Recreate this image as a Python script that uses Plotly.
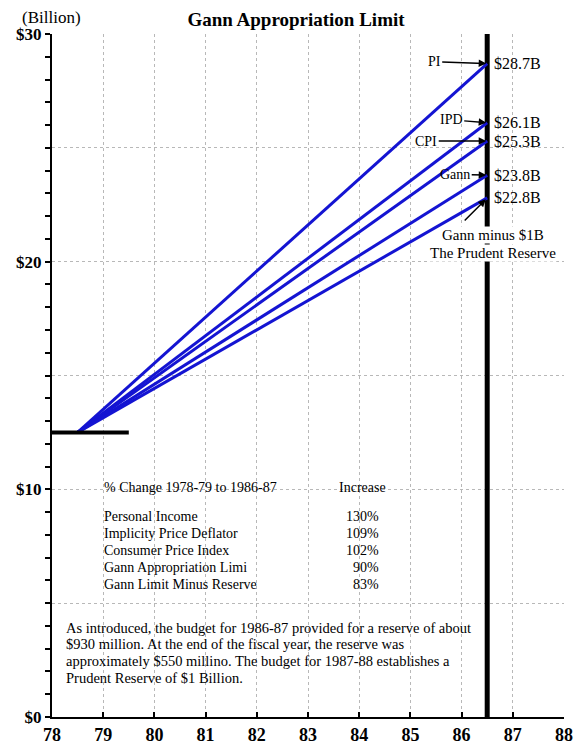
import plotly.graph_objects as go

# %% DATA
start_year = 78.5
start_value = 12.5
end_year = 86.5
series_names = ['PI', 'IPD', 'CPI', 'Gann', 'Gann minus $1B']
end_values = [28.7, 26.1, 25.3, 23.8, 22.8]

base_line_x = [78, 79.5]
base_line_y = [12.5, 12.5]

table_header = ['% Change 1978-79 to 1986-87', 'Increase']
table_labels = [
    'Personal Income',
    'Implicity Price Deflator',
    'Consumer Price Index',
    'Gann Appropriation Limi',
    'Gann Limit Minus Reserve',
]
table_pcts = ['130%', '109%', '102%', '90%', '83%']

note_lines = [
    'As introduced, the budget for 1986-87 provided for a reserve of about',
    '$930 million. At the end of the fiscal year, the reserve was',
    'approximately $550 millino. The budget for 1987-88 establishes a',
    'Prudent Reserve of $1 Billion.',
]

reserve_note = ['Gann minus $1B', 'The Prudent Reserve']

y_tickvals = [0, 5, 10, 15, 20, 25, 30]
y_ticktext = ['$0', '', '$10', '', '$20', '', '$30']
x_tickvals = list(range(78, 89))

FONT = 'Liberation Serif'

# %% FIGURE
fig = go.Figure()

# vertical marker at 86.5
fig.add_trace(go.Scatter(
    x=[end_year, end_year], y=[0, 30],
    mode='lines', line=dict(color='black', width=5),
    hoverinfo='skip', showlegend=False,
))

for name, v in zip(series_names, end_values):
    fig.add_trace(go.Scatter(
        x=[start_year, end_year], y=[start_value, v],
        mode='lines', name=name,
        line=dict(color='#1414d2', width=3),
        showlegend=False,
    ))

fig.add_trace(go.Scatter(
    x=base_line_x, y=base_line_y,
    mode='lines', line=dict(color='black', width=4),
    hoverinfo='skip', showlegend=False,
))

# value labels
for v in end_values:
    fig.add_annotation(
        x=end_year, y=v, text=f'${v}B', showarrow=False,
        xanchor='left', xshift=5, yshift=0,
        font=dict(family=FONT, size=16, color='black'),
    )

# arrow labels
arrow_offsets = {'PI': (-53, -2), 'IPD': (-36, -3), 'CPI': (-61, 0), 'Gann': (-32, -1)}
for name, v in zip(series_names, end_values):
    if name not in arrow_offsets:
        continue
    ax, ay = arrow_offsets[name]
    fig.add_annotation(
        x=end_year, y=v, text=name, showarrow=True,
        ax=ax, ay=ay, arrowhead=2, arrowsize=1, arrowwidth=1.5,
        arrowcolor='black', standoff=1,
        font=dict(family=FONT, size=14, color='black'),
    )

fig.add_annotation(
    x=end_year, y=end_values[-1], text='', showarrow=True,
    ax=-24, ay=24, arrowhead=2, arrowsize=1, arrowwidth=1.5,
    arrowcolor='black', standoff=2,
)
for i, line in enumerate(reserve_note):
    fig.add_annotation(
        x=86.61, y=21.18 - i * 0.79, text=line,
        showarrow=False, bgcolor='white', borderpad=0,
        font=dict(family=FONT, size=15, color='black'),
    )

# table
fig.add_annotation(
    x=78.98, y=10.1, text=table_header[0], showarrow=False,
    xanchor='left', font=dict(family=FONT, size=14, color='black'),
)
fig.add_annotation(
    x=84.56, y=10.1, text=table_header[1], showarrow=False,
    xanchor='right', font=dict(family=FONT, size=14, color='black'),
)
for i, (lab, pct) in enumerate(zip(table_labels, table_pcts)):
    yy = 8.82 - i * 0.755
    fig.add_annotation(
        x=78.98, y=yy, text=lab, showarrow=False,
        xanchor='left', font=dict(family=FONT, size=14, color='black'),
    )
    fig.add_annotation(
        x=84.42, y=yy, text=pct, showarrow=False,
        xanchor='right', font=dict(family=FONT, size=14, color='black'),
    )

for i, line in enumerate(note_lines):
    fig.add_annotation(
        x=78.24, y=3.92 - i * 0.73, text=line, showarrow=False,
        xanchor='left', font=dict(family=FONT, size=14.5, color='black'),
    )

fig.add_annotation(
    xref='paper', yref='paper', x=-32 / 512, y=1.0, yshift=17,
    text='(Billion)', showarrow=False, xanchor='left', yanchor='middle',
    font=dict(family=FONT, size=17, color='black'),
)

fig.update_xaxes(
    range=[78, 88],
    tickvals=x_tickvals,
    ticks='inside', ticklen=5, tickwidth=2, tickcolor='black',
    showline=True, linecolor='black', linewidth=2,
    showgrid=True, gridcolor='#b8b8b8', griddash='dot', gridwidth=1,
    zeroline=False, automargin=False,
    tickfont=dict(family=FONT, size=18, color='black', weight='bold'),
    fixedrange=True,
)
fig.update_yaxes(
    range=[0, 30],
    tickvals=y_tickvals, ticktext=y_ticktext,
    ticks='outside', ticklen=5, tickwidth=2, tickcolor='black',
    minor=dict(dtick=1, ticks='outside', ticklen=5, tickwidth=2, tickcolor='black', showgrid=False),
    showline=True, linecolor='black', linewidth=2,
    showgrid=True, gridcolor='#b8b8b8', griddash='dot', gridwidth=1,
    zeroline=False, automargin=False,
    tickfont=dict(family=FONT, size=17, color='black', weight='bold'),
    fixedrange=True,
)

fig.update_layout(
    width=576, height=748,
    margin=dict(l=52, r=12, t=34, b=31),
    plot_bgcolor='white',
    paper_bgcolor='white',
    title=dict(
        text='<b>Gann Appropriation Limit</b>',
        x=296 / 576, xanchor='center',
        y=1 - 19 / 748, yanchor='middle',
        font=dict(family=FONT, size=19, color='black'),
    ),
    showlegend=False,
)

# drop the default 8px page margin so the figure sits at the window corner
fig.write_html(
    'out.html',
    config={'displayModeBar': False},
    post_script="document.body.style.margin='0';",
)
